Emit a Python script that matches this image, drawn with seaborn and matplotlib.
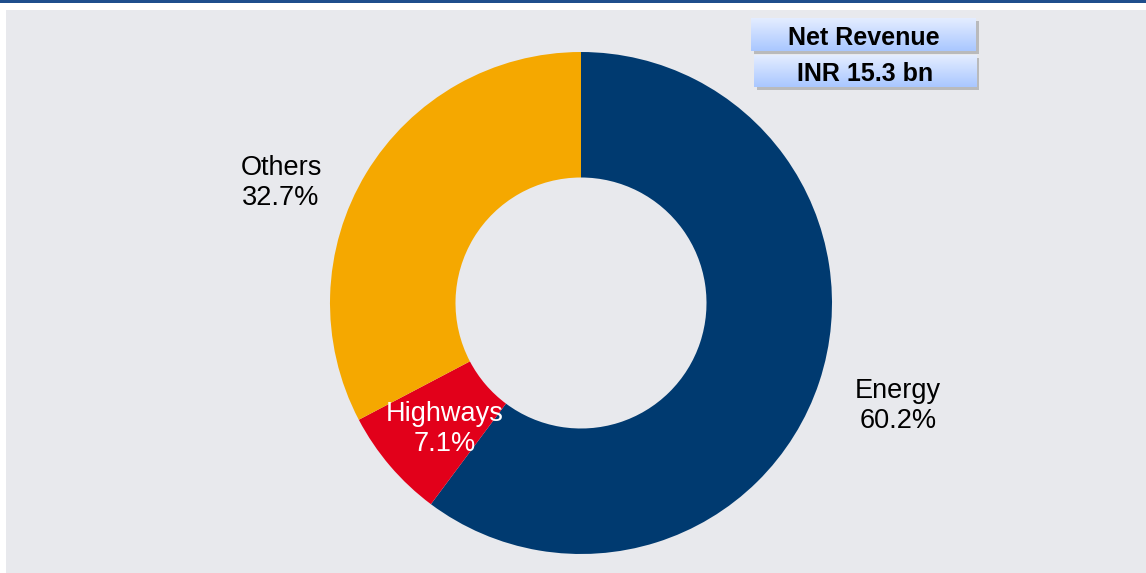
import numpy as np
import seaborn as sns
import matplotlib.pyplot as plt
from matplotlib.colors import LinearSegmentedColormap
from matplotlib.patches import Rectangle

# ─── data ────────────────────────────────────────────────────────────────
segments = ["Energy", "Highways", "Others"]
shares   = [60.2, 7.1, 32.7]
colors   = ["#003A70", "#E2001A", "#F5A800"]
box_text = ["Net Revenue", "INR 15.3 bn"]

W, H = 1146, 573
sns.set_theme(style="white")
plt.rcParams["font.family"] = ["Liberation Sans", "DejaVu Sans"]

fig = plt.figure(figsize=(W / 100, H / 100), dpi=100, facecolor="white")

def fx(px):
    return px / W

def fy(py):
    return 1 - py / H

# top rule
fig.add_artist(Rectangle((0, fy(3)), 1, 3 / H, transform=fig.transFigure,
                         facecolor="#1F4E8C", edgecolor="none"))

# grey panel
bg = fig.add_axes([fx(6), 0, 1 - fx(6), fy(10)])
bg.set_facecolor("#E8E9ED")
bg.set_xticks([]); bg.set_yticks([])
for s in bg.spines.values():
    s.set_visible(False)

# ─── donut ───────────────────────────────────────────────────────────────
cx, cy, r = 581, 303, 251
ax = fig.add_axes([fx(cx - r), fy(cy + r), 2 * r / W, 2 * r / H])
ax.set_facecolor("none")
wedges, _ = ax.pie(shares, colors=colors, startangle=90, counterclock=False,
                   radius=1.0, wedgeprops=dict(width=0.5, edgecolor="none"))
ax.set_xlim(-1, 1); ax.set_ylim(-1, 1)
ax.set_aspect("equal")
ax.axis("off")

label_pos = {"Energy": (898, 406), "Highways": (445, 429), "Others": (281, 183)}
label_col = {"Energy": "black", "Highways": "white", "Others": "black"}
for name, val in zip(segments, shares):
    px, py = label_pos[name]
    fig.text(fx(px), fy(py), f"{name}\n{val:.1f}%", ha="center", va="center",
             fontsize=19.5, color=label_col[name], linespacing=1.2)

# ─── header boxes ────────────────────────────────────────────────────────
grad = LinearSegmentedColormap.from_list("g", ["#E4EDFF", "#A9C7FF"])
boxes = [(751, 18, 225, 33), (754, 55, 222, 32)]
for (bx, by, bw, bh), txt in zip(boxes, box_text):
    # shadow, drawn in the grey panel so it sits behind the box
    bg.add_patch(Rectangle((fx(bx + 3), fy(by + bh + 3)), bw / W, bh / H,
                           transform=fig.transFigure, facecolor="#8C8C8C",
                           edgecolor="none", alpha=0.5, clip_on=False))
    bax = fig.add_axes([fx(bx), fy(by + bh), bw / W, bh / H])
    bax.imshow(np.linspace(0, 1, 64).reshape(-1, 1), aspect="auto", cmap=grad,
               extent=[0, 1, 0, 1])
    bax.axis("off")
    bax.text(0.5, 0.47, txt, ha="center", va="center_baseline", fontsize=18,
             fontweight="bold", color="black", transform=bax.transAxes)

fig.savefig("out.png", dpi=100, facecolor=fig.get_facecolor())
